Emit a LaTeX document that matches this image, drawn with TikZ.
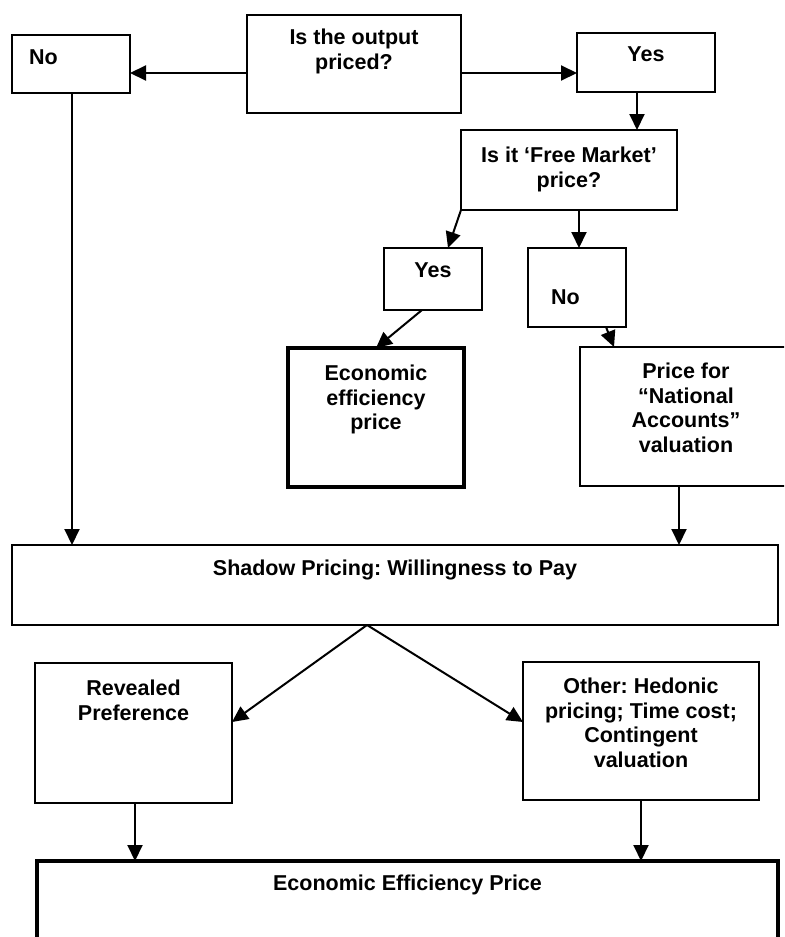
\documentclass[tikz,border=0pt]{standalone}
\usepackage{fontspec}
\setmainfont{Liberation Sans}
\usetikzlibrary{arrows.meta}
\frenchspacing
\newcommand{\boxtext}[4]{%
  \parbox[c][\dimexpr#2pt/2\relax][t]{\dimexpr#1pt/2\relax}{\centering\vspace*{#3pt}#4\par}}
\begin{document}
\begin{tikzpicture}[x=0.5pt, y=-0.5pt,
    font=\fontsize{10.75}{12.25}\selectfont\bfseries,
    box/.style={draw, line width=1.2pt, anchor=north west, inner sep=0pt, outer sep=0pt},
    thickbox/.style={line width=2.2pt},
    arr/.style={line width=1pt, -{Triangle[length=8pt, width=7.5pt]}}]
    \useasboundingbox (0,0) rectangle (784,937);
    \clip (0,0) rectangle (784,937);
    \node[box] (q) at (247,15) {\boxtext{214}{98}{7}{Is the output\\priced?}};
    \node[box] (noL) at (12,35) {\boxtext{118}{58}{7.5}{No\hspace*{27.5pt}}};
    \node[box] (yesT) at (577,33) {\boxtext{138}{59}{7}{Yes}};
    \node[box] (fm) at (461,130) {\boxtext{216}{80}{8.5}{Is it `Free Market'\\price?}};
    \node[box] (yes2) at (384,248) {\boxtext{98}{62}{7.5}{Yes}};
    \node[box] (no2) at (528,248) {\boxtext{98}{79}{21}{No\hspace*{11.5pt}}};
    \node[box, thickbox] (eep) at (288,348) {\boxtext{176}{139}{8.5}{Economic\\efficiency\\price}};
    \node[box] (na) at (580,347) {\boxtext{212}{139}{8}{Price for\\``National\\Accounts''\\valuation}};
    \node[box] (wtp) at (12,545) {\boxtext{766}{80}{7.5}{Shadow Pricing: Willingness to Pay}};
    \node[box] (rp) at (35,663) {\boxtext{197}{140}{8.5}{Revealed\\Preference}};
    \node[box] (oth) at (523,662) {\boxtext{236}{138}{8}{Other: Hedonic\\pricing; Time cost;\\Contingent\\valuation}};
    \node[box, thickbox] (eff) at (37,861) {\boxtext{741}{100}{7}{Economic Efficiency Price}};
    % connectors
    \draw[arr] (q.west |- 0,73) -- (noL.east |- 0,73);
    \draw[arr] (q.east |- 0,73) -- (yesT.west |- 0,73);
    \draw[arr] (yesT.south -| 637,0) -- (fm.north -| 637,0);
    \draw[arr] (fm.south west) -- (yes2.north -| 448,0);
    \draw[arr] (fm.south -| 579,0) -- (no2.north -| 579,0);
    \draw[arr] (yes2.south -| 422,0) -- (eep.north -| 376,0);
    \draw[arr] (no2.south -| 606,0) -- (na.north -| 614,0);
    \draw[arr] (noL.south -| 72,0) -- (wtp.north -| 72,0);
    \draw[arr] (na.south -| 679,0) -- (wtp.north -| 679,0);
    \draw[arr] (wtp.south -| 367,0) -- (rp.east |- 0,722);
    \draw[arr] (wtp.south -| 367,0) -- (oth.west |- 0,722);
    \draw[arr] (rp.south -| 135,0) -- (eff.north -| 135,0);
    \draw[arr] (oth.south -| 641,0) -- (eff.north -| 641,0);
\end{tikzpicture}
\end{document}
